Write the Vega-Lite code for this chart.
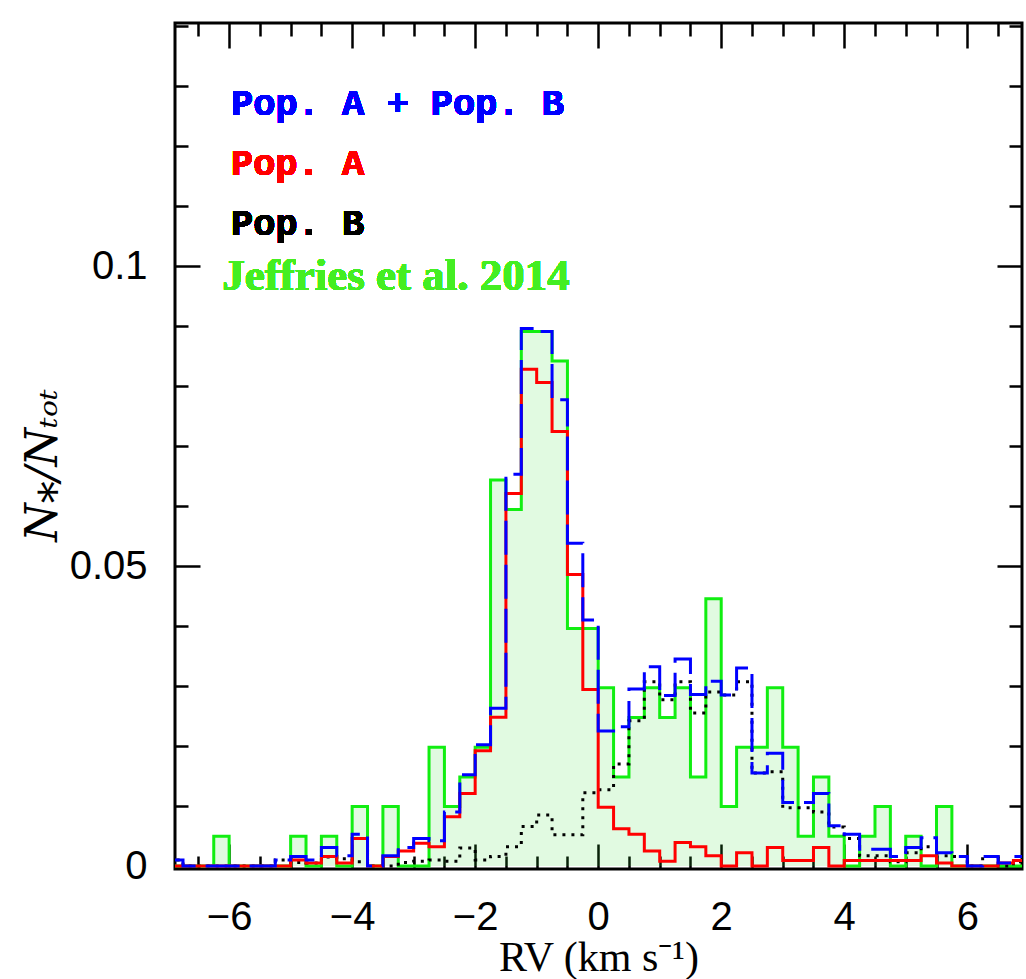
{
  "$schema": "https://vega.github.io/schema/vega-lite/v6.json",
  "width": 847,
  "height": 846,
  "autosize": {"type": "none"},
  "padding": {"left": 175, "top": 23, "right": 4, "bottom": 110},
  "background": "white",
  "config": {
    "view": {"stroke": "black", "strokeWidth": 3},
    "axis": {"grid": false, "domain": false, "tickColor": "black", "tickWidth": 2.5, "labelColor": "black", "titleColor": "black"}
  },
  "datasets": {
    "h": [
      {"x": -7.0, "j": 0, "b": 0.001, "a": 0, "k": 0.001},
      {"x": -6.75, "j": 0, "b": 0, "a": 0, "k": 0},
      {"x": -6.5, "j": 0, "b": 0, "a": 0, "k": 0},
      {"x": -6.25, "j": 0.00495, "b": 0, "a": 0, "k": 0},
      {"x": -6.0, "j": 0, "b": 0, "a": 0, "k": 0},
      {"x": -5.75, "j": 0, "b": 0, "a": 0, "k": 0},
      {"x": -5.5, "j": 0, "b": 0, "a": 0, "k": 0},
      {"x": -5.25, "j": 0, "b": 0.001, "a": 0, "k": 0.001},
      {"x": -5.0, "j": 0.00495, "b": 0.0016, "a": 0.001, "k": 0.0006},
      {"x": -4.75, "j": 0, "b": 0.001, "a": 0.0005, "k": 0.0005},
      {"x": -4.5, "j": 0.00495, "b": 0.0031, "a": 0.0016, "k": 0.0015},
      {"x": -4.25, "j": 0, "b": 0.0017, "a": 0.0005, "k": 0.0012},
      {"x": -4.0, "j": 0.0099, "b": 0.0053, "a": 0.0046, "k": 0.0007},
      {"x": -3.75, "j": 0, "b": 0, "a": 0, "k": 0},
      {"x": -3.5, "j": 0.0099, "b": 0.0017, "a": 0.0016, "k": 0},
      {"x": -3.25, "j": 0, "b": 0.0031, "a": 0.0025, "k": 0.0006},
      {"x": -3.0, "j": 0, "b": 0.0046, "a": 0.0038, "k": 0.0008},
      {"x": -2.75, "j": 0.0198, "b": 0.0042, "a": 0.0032, "k": 0.001},
      {"x": -2.5, "j": 0.0099, "b": 0.009, "a": 0.0082, "k": 0.0008},
      {"x": -2.25, "j": 0.01485, "b": 0.0152, "a": 0.0121, "k": 0.003},
      {"x": -2.0, "j": 0.0198, "b": 0.0202, "a": 0.0192, "k": 0.001},
      {"x": -1.75, "j": 0.06435, "b": 0.0263, "a": 0.0248, "k": 0.0016},
      {"x": -1.5, "j": 0.0594, "b": 0.0653, "a": 0.0621, "k": 0.0032},
      {"x": -1.25, "j": 0.0891, "b": 0.0896, "a": 0.0828, "k": 0.0066},
      {"x": -1.0, "j": 0.0891, "b": 0.0891, "a": 0.0806, "k": 0.0085},
      {"x": -0.75, "j": 0.08415, "b": 0.0777, "a": 0.0724, "k": 0.0052},
      {"x": -0.5, "j": 0.0396, "b": 0.0538, "a": 0.0486, "k": 0.0052},
      {"x": -0.25, "j": 0.0396, "b": 0.041, "a": 0.0294, "k": 0.0122},
      {"x": 0.0, "j": 0.0297, "b": 0.0225, "a": 0.0098, "k": 0.0127},
      {"x": 0.25, "j": 0.01485, "b": 0.0232, "a": 0.0062, "k": 0.017},
      {"x": 0.5, "j": 0.02475, "b": 0.0295, "a": 0.0053, "k": 0.0242},
      {"x": 0.75, "j": 0.0297, "b": 0.0332, "a": 0.0025, "k": 0.0307},
      {"x": 1.0, "j": 0.02475, "b": 0.0284, "a": 0.0008, "k": 0.0277},
      {"x": 1.25, "j": 0.0297, "b": 0.0345, "a": 0.0039, "k": 0.0307},
      {"x": 1.5, "j": 0.01485, "b": 0.0286, "a": 0.0032, "k": 0.0255},
      {"x": 1.75, "j": 0.04455, "b": 0.0308, "a": 0.0017, "k": 0.029},
      {"x": 2.0, "j": 0.0099, "b": 0.0285, "a": 0, "k": 0.0285},
      {"x": 2.25, "j": 0.0198, "b": 0.033, "a": 0.0022, "k": 0.0307},
      {"x": 2.5, "j": 0.0198, "b": 0.0155, "a": 0, "k": 0.0155},
      {"x": 2.75, "j": 0.0297, "b": 0.0188, "a": 0.0031, "k": 0.0157},
      {"x": 3.0, "j": 0.0198, "b": 0.0106, "a": 0.0009, "k": 0.0097},
      {"x": 3.25, "j": 0.00495, "b": 0.0106, "a": 0.0009, "k": 0.0097},
      {"x": 3.5, "j": 0.01485, "b": 0.0121, "a": 0.0031, "k": 0.009},
      {"x": 3.75, "j": 0.00495, "b": 0.0067, "a": 0, "k": 0.0065},
      {"x": 4.0, "j": 0, "b": 0.0053, "a": 0.0009, "k": 0.0046},
      {"x": 4.25, "j": 0.00495, "b": 0.0028, "a": 0.0009, "k": 0.0017},
      {"x": 4.5, "j": 0.0099, "b": 0.0028, "a": 0.0009, "k": 0.0017},
      {"x": 4.75, "j": 0, "b": 0.0016, "a": 0.0009, "k": 0.0007},
      {"x": 5.0, "j": 0.00495, "b": 0.0031, "a": 0.0009, "k": 0.0022},
      {"x": 5.25, "j": 0, "b": 0.0047, "a": 0.0017, "k": 0.0032},
      {"x": 5.5, "j": 0.0099, "b": 0.0022, "a": 0.0005, "k": 0.0017},
      {"x": 5.75, "j": 0, "b": 0.0016, "a": 0, "k": 0.0016},
      {"x": 6.0, "j": 0, "b": 0, "a": 0, "k": 0},
      {"x": 6.25, "j": 0, "b": 0.0016, "a": 0, "k": 0.0016},
      {"x": 6.5, "j": 0, "b": 0.0005, "a": 0.0005, "k": 0},
      {"x": 6.75, "j": 0, "b": 0.0016, "a": 0.0009, "k": 0.0007},
      {"x": 7.0, "j": 0, "b": 0.0016, "a": 0.0009, "k": 0.0007}
    ]
  },
  "data": {"name": "h"},
  "resolve": {"axis": {"x": "independent", "y": "independent"}},
  "layer": [
    {
      "mark": {"type": "area", "interpolate": "step-after", "color": "#33dd33", "opacity": 0.15, "clip": true},
      "encoding": {
        "x": {"field": "x", "type": "quantitative", "scale": {"domain": [-6.88, 6.89], "nice": false, "zero": false},
          "axis": {"orient": "bottom", "values": [-6, -4, -2, 0, 2, 4, 6], "format": "d", "tickSize": -25, "labelPadding": 53,
            "labelFont": "Liberation Sans", "labelFontSize": 40, "title": "RV (km s⁻¹)", "titleFont": "Liberation Serif", "titleFontSize": 42, "titleFontWeight": "normal", "titlePadding": 0}},
        "y": {"field": "j", "type": "quantitative", "scale": {"domain": [-0.0005, 0.1405], "nice": false, "zero": false},
          "axis": {"orient": "left", "values": [0, 0.05, 0.1], "format": "~g", "tickSize": -25, "labelPadding": 53,
            "labelFont": "Liberation Sans", "labelFontSize": 40, "title": "N⁎/Nₜₒₜ", "titleFont": "DejaVu Serif", "titleFontStyle": "italic", "titleFontSize": 44, "titleFontWeight": "normal", "titlePadding": 4, "titleY": 442}}
      }
    },
    {
      "mark": {"type": "line", "interpolate": "step-after", "color": "#11ee11", "strokeWidth": 3, "clip": true},
      "encoding": {
        "x": {"field": "x", "type": "quantitative",
          "axis": {"orient": "bottom", "values": [-6.5, -5.5, -5, -4.5, -3.5, -3, -2.5, -1.5, -1, -0.5, 0.5, 1, 1.5, 2.5, 3, 3.5, 4.5, 5, 5.5, 6.5], "tickSize": -13, "labels": false, "title": null}},
        "y": {"field": "j", "type": "quantitative",
          "axis": {"orient": "left", "values": [0.01, 0.02, 0.03, 0.04, 0.06, 0.07, 0.08, 0.09, 0.11, 0.12, 0.13, 0.14], "tickSize": -13, "labels": false, "title": null}}
      }
    },
    {
      "mark": {"type": "line", "interpolate": "step-after", "color": "black", "strokeWidth": 3, "strokeDash": [3, 6], "clip": true},
      "encoding": {
        "x": {"field": "x", "type": "quantitative",
          "axis": {"orient": "top", "values": [-6, -4, -2, 0, 2, 4, 6], "tickSize": -25, "labels": false, "title": null}},
        "y": {"field": "k", "type": "quantitative",
          "axis": {"orient": "right", "values": [0, 0.05, 0.1], "tickSize": -25, "labels": false, "title": null}}
      }
    },
    {
      "mark": {"type": "line", "interpolate": "step-after", "color": "#ff0000", "strokeWidth": 3, "clip": true},
      "encoding": {
        "x": {"field": "x", "type": "quantitative",
          "axis": {"orient": "top", "values": [-6.5, -5.5, -5, -4.5, -3.5, -3, -2.5, -1.5, -1, -0.5, 0.5, 1, 1.5, 2.5, 3, 3.5, 4.5, 5, 5.5, 6.5], "tickSize": -13, "labels": false, "title": null}},
        "y": {"field": "a", "type": "quantitative",
          "axis": {"orient": "right", "values": [0.01, 0.02, 0.03, 0.04, 0.06, 0.07, 0.08, 0.09, 0.11, 0.12, 0.13, 0.14], "tickSize": -13, "labels": false, "title": null}}
      }
    },
    {
      "mark": {"type": "line", "interpolate": "step-after", "color": "#0000ff", "strokeWidth": 3, "strokeDash": [34, 10], "clip": true},
      "encoding": {
        "x": {"field": "x", "type": "quantitative", "axis": null},
        "y": {"field": "b", "type": "quantitative", "axis": null}
      }
    },
    {
      "mark": {"type": "text", "align": "left", "baseline": "alphabetic", "font": "Liberation Mono", "fontSize": 37, "fontWeight": "bold", "color": "#0000ff"},
      "encoding": {"x": {"datum": -5.97, "axis": null}, "y": {"datum": 0.1252, "axis": null}, "text": {"value": "Pop. A + Pop. B"}}
    },
    {
      "mark": {"type": "text", "align": "left", "baseline": "alphabetic", "font": "Liberation Mono", "fontSize": 37, "fontWeight": "bold", "color": "#ff0000"},
      "encoding": {"x": {"datum": -5.97, "axis": null}, "y": {"datum": 0.1152, "axis": null}, "text": {"value": "Pop. A"}}
    },
    {
      "mark": {"type": "text", "align": "left", "baseline": "alphabetic", "font": "Liberation Mono", "fontSize": 37, "fontWeight": "bold", "color": "black"},
      "encoding": {"x": {"datum": -5.97, "axis": null}, "y": {"datum": 0.1052, "axis": null}, "text": {"value": "Pop. B"}}
    },
    {
      "mark": {"type": "text", "align": "left", "baseline": "alphabetic", "font": "Liberation Serif", "fontSize": 45, "fontWeight": "bold", "color": "#44ee22"},
      "encoding": {"x": {"datum": -6.11, "axis": null}, "y": {"datum": 0.096, "axis": null}, "text": {"value": "Jeffries et al. 2014"}}
    }
  ]
}
